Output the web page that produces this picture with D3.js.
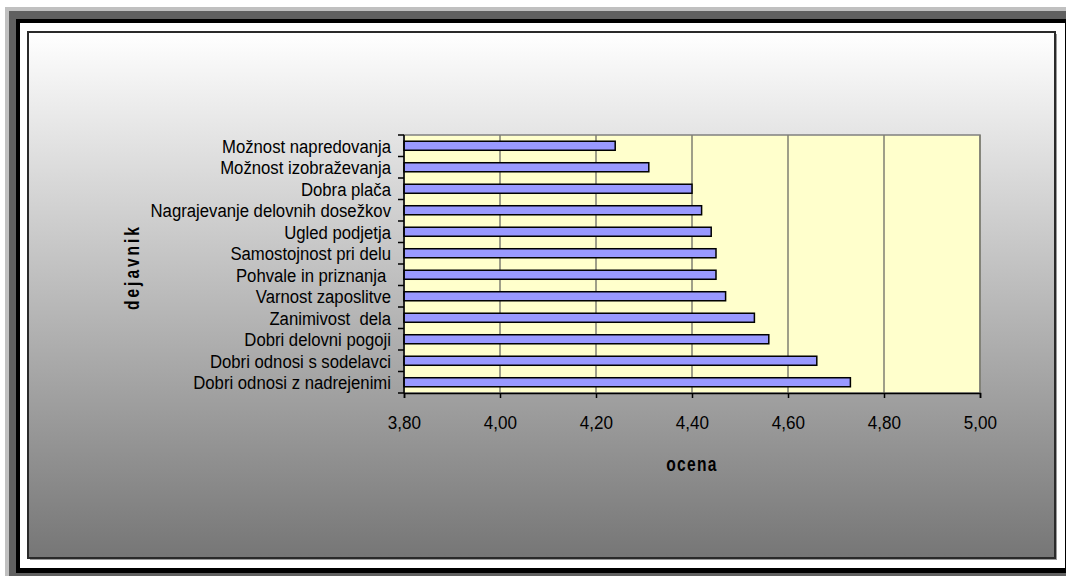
<!DOCTYPE html>
<html>
<head>
<meta charset="utf-8">
<script src="https://cdn.jsdelivr.net/npm/d3@7"></script>
<style>
  html, body { margin: 0; padding: 0; background: #fff; }
  svg { display: block; font-family: "Liberation Sans", Arial, sans-serif; }
  text { white-space: pre; }
</style>
</head>
<body>
<svg id="chart" width="1066" height="576"></svg>
<script>
// Factors (top to bottom) and their average ratings
const categories = [
  "Možnost napredovanja",
  "Možnost izobraževanja",
  "Dobra plača",
  "Nagrajevanje delovnih dosežkov",
  "Ugled podjetja",
  "Samostojnost pri delu",
  "Pohvale in priznanja ",
  "Varnost zaposlitve",
  "Zanimivost  dela",
  "Dobri delovni pogoji",
  "Dobri odnosi s sodelavci",
  "Dobri odnosi z nadrejenimi"
];
const values = [4.24, 4.31, 4.40, 4.42, 4.44, 4.45, 4.45, 4.47, 4.53, 4.56, 4.66, 4.73];
const xTicks = [3.80, 4.00, 4.20, 4.40, 4.60, 4.80, 5.00];
const xTitle = "ocena";
const yTitle = "dejavnik";

const svg = d3.select("#chart");
const defs = svg.append("defs");

// Frame around the chart
svg.append("rect").attr("x", 5).attr("y", 7).attr("width", 1100).attr("height", 600).attr("fill", "#c0c0c0");
svg.append("rect").attr("x", 9).attr("y", 11).attr("width", 1100).attr("height", 600).attr("fill", "#606060");
svg.append("rect").attr("x", 16).attr("y", 19).attr("width", 1100).attr("height", 554).attr("fill", "#000");
svg.append("rect").attr("x", 20).attr("y", 23).attr("width", 1045).attr("height", 545).attr("fill", "#fff");

// Chart area with vertical grey gradient
const grad = defs.append("linearGradient").attr("id", "bg").attr("x1", 0).attr("y1", 0).attr("x2", 0).attr("y2", 1);
grad.append("stop").attr("offset", "0%").attr("stop-color", "#ffffff");
grad.append("stop").attr("offset", "100%").attr("stop-color", "#767676");

svg.append("rect").attr("x", 30).attr("y", 34).attr("width", 1027).attr("height", 526).attr("fill", "#9a9a9a");
svg.append("rect").attr("x", 28).attr("y", 32).attr("width", 1027).attr("height", 526)
  .attr("fill", "url(#bg)").attr("stroke", "#2a2a2a").attr("stroke-width", 2);

// Plot area
const plot = { left: 404, right: 980, top: 135, bottom: 393 };

const x = d3.scaleLinear().domain([3.8, 5.0]).range([plot.left, plot.right]);
const y = d3.scaleBand().domain(categories).range([plot.top, plot.bottom]).padding(0);
const barH = y.bandwidth() * 0.42;

svg.append("rect")
  .attr("x", plot.left).attr("y", plot.top)
  .attr("width", plot.right - plot.left).attr("height", plot.bottom - plot.top)
  .attr("fill", "#ffffcc").attr("stroke", "#808080").attr("stroke-width", 1.5);

// Vertical gridlines
svg.append("g").selectAll("line")
  .data(xTicks.slice(1))
  .join("line")
  .attr("x1", d => x(d)).attr("x2", d => x(d))
  .attr("y1", plot.top).attr("y2", plot.bottom)
  .attr("stroke", "#7f7f72").attr("stroke-width", 1.5);

// Bars
svg.append("g").selectAll("rect")
  .data(categories)
  .join("rect")
  .attr("x", x(3.8))
  .attr("y", d => y(d) + (y.bandwidth() - barH) / 2)
  .attr("width", (d, i) => x(values[i]) - x(3.8))
  .attr("height", barH)
  .attr("fill", "#9999ff")
  .attr("stroke", "#000")
  .attr("stroke-width", 1.5);

// X axis
const xAxis = d3.axisBottom(x)
  .tickValues(xTicks)
  .tickSize(5)
  .tickPadding(18)
  .tickFormat(d => d3.format(".2f")(d).replace(".", ","));
const gx = svg.append("g").attr("transform", `translate(0,${plot.bottom})`).call(xAxis);
gx.select(".domain").attr("stroke", "#000").attr("stroke-width", 1.5);
gx.selectAll(".tick line").attr("stroke", "#000").attr("stroke-width", 1.5);
gx.selectAll(".tick text")
  .attr("font-family", "Liberation Sans, Arial, sans-serif")
  .attr("font-size", 18)
  .attr("fill", "#000")
  .attr("transform", "scale(0.95,1)");

// Y axis line, ticks at category boundaries and labels
const gy = svg.append("g");
gy.append("line")
  .attr("x1", plot.left).attr("x2", plot.left)
  .attr("y1", plot.top).attr("y2", plot.bottom)
  .attr("stroke", "#000").attr("stroke-width", 1.5);
const boundaries = categories.map(c => y(c)).concat([plot.bottom]);
gy.selectAll("line.tick")
  .data(boundaries)
  .join("line")
  .attr("class", "tick")
  .attr("x1", plot.left - 6).attr("x2", plot.left)
  .attr("y1", d => d).attr("y2", d => d)
  .attr("stroke", "#000").attr("stroke-width", 1.5);
gy.selectAll("text")
  .data(categories)
  .join("text")
  .attr("transform", d => `translate(391,${y(d) + y.bandwidth() / 2}) scale(0.88,1)`)
  .attr("dy", "0.36em")
  .attr("text-anchor", "end")
  .attr("font-size", 19)
  .attr("fill", "#000")
  .text(d => d);

// Axis titles
svg.append("text")
  .attr("transform", `translate(${(plot.left + plot.right) / 2},471) scale(0.78,1)`)
  .attr("text-anchor", "middle")
  .attr("font-size", 20)
  .attr("font-weight", "bold")
  .attr("letter-spacing", 1.6)
  .attr("fill", "#000")
  .text(xTitle);

svg.append("text")
  .attr("transform", "translate(139,267) rotate(-90) scale(0.74,1)")
  .attr("text-anchor", "middle")
  .attr("font-size", 21)
  .attr("font-weight", "bold")
  .attr("letter-spacing", 4)
  .attr("fill", "#000")
  .text(yTitle);
</script>
</body>
</html>
